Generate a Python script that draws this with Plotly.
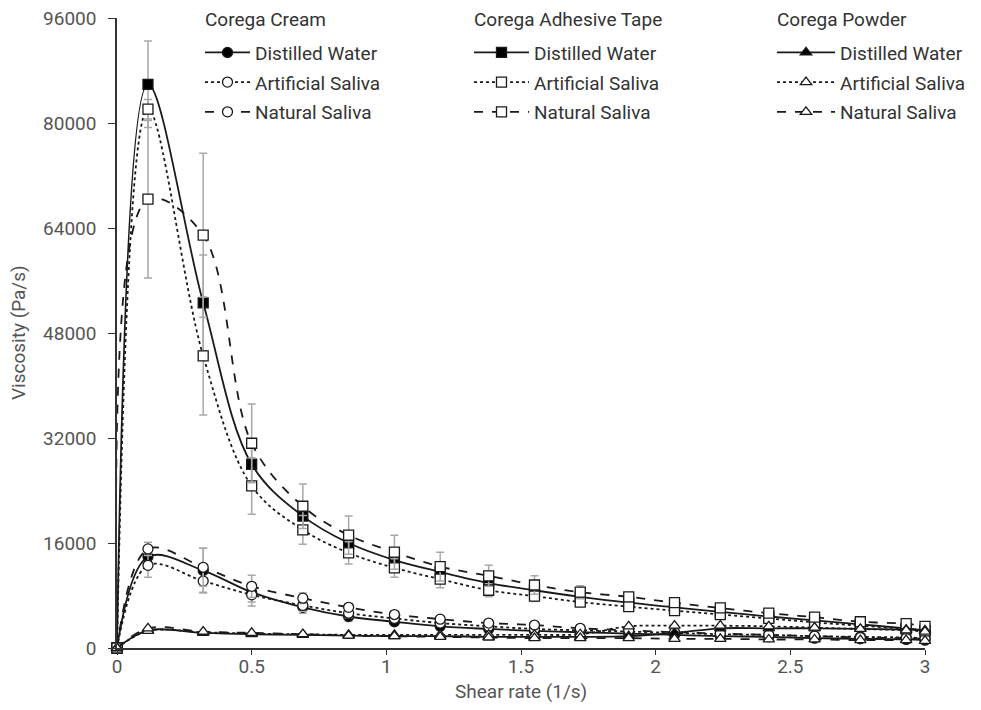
import plotly.graph_objects as go

shear = [0, 0.115, 0.32, 0.5, 0.69, 0.86, 1.03, 1.2, 1.38, 1.55, 1.72, 1.9, 2.07, 2.24, 2.42, 2.59, 2.76, 2.93, 3.0]

# Corega Cream (circles)
cream_dw = [0, 13900, 11800, 8500, 6200, 4800, 4000, 3300, 2900, 2600, 2400, 2200, 2000, 1800, 1700, 1500, 1400, 1300, 1200]
cream_as = [0, 12600, 10200, 8100, 6500, 5300, 4500, 3800, 3300, 2900, 2700, 2500, 2300, 2100, 2000, 1800, 1700, 1600, 1500]
cream_ns = [0, 15100, 12300, 9400, 7600, 6200, 5100, 4400, 3800, 3500, 3000, 2700, 2400, 2200, 2000, 1800, 1600, 1500, 1400]
cream_dw_err = [0, 1200, 3400, 1500, 900, 700, 500, 400, 300, 300, 200, 200, 200, 200, 200, 200, 200, 200, 200]
cream_as_err = [0, 1800, 1700, 1700, 900, 700, 500, 400, 300, 300, 200, 200, 200, 200, 200, 200, 200, 200, 200]
cream_ns_err = [0, 1000, 2900, 1700, 800, 600, 500, 400, 300, 300, 200, 200, 200, 200, 200, 200, 200, 200, 200]

# Corega Adhesive Tape (squares)
tape_dw = [0, 85900, 52600, 28000, 20100, 16000, 13400, 11600, 9900, 8800, 7800, 6900, 6200, 5500, 4800, 4200, 3600, 3000, 2700]
tape_as = [0, 82100, 44500, 24700, 18000, 14500, 12200, 10500, 8800, 7900, 7000, 6300, 5700, 5100, 4500, 3900, 3400, 2900, 2600]
tape_ns = [0, 68400, 62900, 31200, 21600, 17200, 14600, 12400, 11000, 9600, 8500, 7800, 6900, 6100, 5300, 4700, 4000, 3700, 3300]
tape_dw_err = [0, 6600, 7300, 3000, 2000, 1500, 1200, 1000, 800, 700, 600, 500, 400, 400, 300, 300, 300, 300, 300]
tape_as_err = [0, 1500, 9000, 4300, 2200, 1700, 1400, 1300, 1000, 800, 600, 500, 400, 400, 300, 300, 300, 300, 300]
tape_ns_err = [0, 12000, 12500, 6000, 3400, 2900, 2600, 2200, 1600, 1400, 1000, 700, 500, 400, 300, 300, 300, 300, 300]

# Corega Powder (triangles)
powder_dw = [0, 2700, 2300, 2100, 2000, 1900, 1800, 1800, 1700, 1700, 1700, 1800, 2300, 3000, 3000, 3000, 2900, 2800, 2700]
powder_as = [0, 2600, 2400, 2200, 2100, 2000, 2000, 2000, 2000, 2000, 2100, 3300, 3400, 3400, 3300, 3100, 2900, 2700, 2500]
powder_ns = [0, 3000, 2500, 2300, 2100, 1900, 1800, 1700, 1600, 1500, 1500, 1500, 1400, 1400, 1300, 1300, 1200, 1200, 1100]

group_titles = ["Corega Cream", "Corega Adhesive Tape", "Corega Powder"]
media = ["Distilled Water", "Artificial Saliva", "Natural Saliva"]
y_ticks = [0, 16000, 32000, 48000, 64000, 80000, 96000]
x_ticks = [0, 0.5, 1, 1.5, 2, 2.5, 3]
x_title = "Shear rate (1/s)"
y_title = "Viscosity (Pa/s)"

groups = [
    ("legend", "circle", [cream_dw, cream_as, cream_ns], [cream_dw_err, cream_as_err, cream_ns_err]),
    ("legend2", "square", [tape_dw, tape_as, tape_ns], [tape_dw_err, tape_as_err, tape_ns_err]),
    ("legend3", "triangle-up", [powder_dw, powder_as, powder_ns], None),
]
dashes = ["solid", "dot", "dash"]
fills = ["black", "white", "white"]

fig = go.Figure()
for leg, sym, series, errs in groups:
    for i, (name, ys) in enumerate(zip(media, series)):
        ekw = {}
        if errs is not None:
            ekw = dict(error_y=dict(type="data", array=errs[i], visible=True,
                                    color="#a8a8a8", thickness=1.5, width=4))
        fig.add_trace(go.Scatter(
            x=shear, y=ys, name=name, legend=leg, legendgroup=leg + str(i),
            mode="lines+markers",
            line=dict(color="#1a1a1a", width=1.8, dash=dashes[i], shape="spline", smoothing=1.0),
            marker=dict(symbol=sym, size=10, color=fills[i], line=dict(color="#1a1a1a", width=1.3)),
            cliponaxis=False, **ekw))

font = dict(family="Roboto, Lato, sans-serif", size=19, color="#333333")
tfont = dict(family="Roboto, sans-serif", size=19, color="#555555")
legend_common = dict(font=font, bgcolor="rgba(0,0,0,0)", borderwidth=0,
                     xref="container", yref="container",
                     yanchor="top", xanchor="left", tracegroupgap=2)

# plot area: page x 117..925, y 18..648 (figure is offset 8px by page margin)
fig.update_layout(
    width=981, height=710,
    margin=dict(l=109, r=64, t=10, b=70, autoexpand=False),
    plot_bgcolor="white", paper_bgcolor="white",
    font=font,
    showlegend=True,
    legend=dict(x=192 / 981, y=0.964, itemwidth=45, **legend_common),
    legend2=dict(x=461 / 981, y=0.964, itemwidth=55, **legend_common),
    legend3=dict(x=764 / 981, y=0.964, itemwidth=58, **legend_common),
    xaxis=dict(range=[0, 3], tickvals=x_ticks, ticktext=[str(v) for v in x_ticks],
               showgrid=False, zeroline=False, showline=True, linecolor="#333", linewidth=1.5,
               ticks="", automargin=False, tickfont=tfont, ticklabeloverflow="allow",
               minor=dict(tickvals=x_ticks, ticks="outside", ticklen=5, tickcolor="#333", showgrid=False)),
    yaxis=dict(range=[0, 96000], tickvals=y_ticks, ticktext=[str(v) for v in y_ticks],
               showgrid=False, zeroline=False, showline=True, linecolor="#333", linewidth=1.5,
               ticks="outside", ticklen=7, tickcolor="#333", automargin=False,
               ticklabeloverflow="allow", ticklabelstandoff=8, tickfont=tfont),
)

title_x = [0.1064, 0.4394, 0.8144]
for tx, txt in zip(title_x, group_titles):
    fig.add_annotation(text=txt, xref="paper", yref="paper", x=tx, y=0.998,
                       xanchor="left", yanchor="middle", showarrow=False, font=font)
fig.add_annotation(text=y_title, xref="paper", yref="paper", x=-0.1225, y=0.5,
                   textangle=-90, xanchor="center", yanchor="middle", showarrow=False, font=tfont)
fig.add_annotation(text=x_title, xref="paper", yref="paper", x=0.5, y=-0.0698,
                   xanchor="center", yanchor="middle", showarrow=False, font=tfont)
fig.write_html("out.html")
